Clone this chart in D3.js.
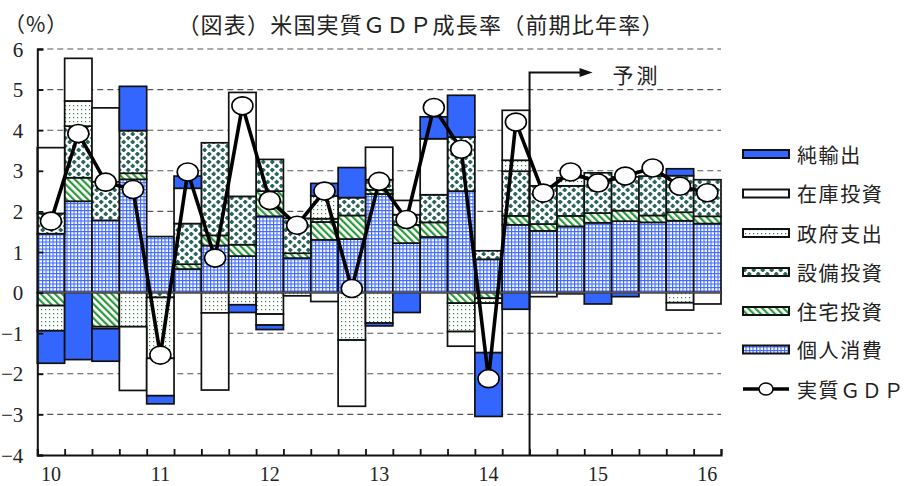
<!DOCTYPE html>
<html>
<head>
<meta charset="utf-8">
<script src="https://cdn.jsdelivr.net/npm/d3@7"></script>
<style>
  html, body { margin: 0; padding: 0; background: #fff; }
  svg { display: block; }
  .jp { font-family: "Noto Sans CJK JP", "Noto Sans", sans-serif; fill: #222; }
  .num { font-family: "Liberation Serif", "DejaVu Serif", serif; fill: #222; }
</style>
</head>
<body>
<svg id="chart" width="906" height="486"></svg>
<script>
// Quarters 2010Q1 – 2016Q1 (forecast from 2014Q3)
const quarters = [
  "2010Q1","2010Q2","2010Q3","2010Q4",
  "2011Q1","2011Q2","2011Q3","2011Q4",
  "2012Q1","2012Q2","2012Q3","2012Q4",
  "2013Q1","2013Q2","2013Q3","2013Q4",
  "2014Q1","2014Q2","2014Q3","2014Q4",
  "2015Q1","2015Q2","2015Q3","2015Q4",
  "2016Q1"
];
const yearLabels = ["10","11","12","13","14","15","16"];
const forecastStart = "2014Q3";

// Contributions to real GDP growth (annualized q/q, %pt)
const consumption = [1.45,2.25,1.78,2.79, 1.38,0.58,1.16,0.90, 1.88,0.85,1.30,1.32, 2.43,1.22,1.37,2.50, 0.82,1.67, 1.52,1.63, 1.72,1.76,1.73,1.77, 1.70];
const residential = [-0.32,0.58,-0.84,0.15, 0.00,0.12,0.25,0.28, 0.62,0.12,0.44,0.58, 0.10,0.45,0.36,-0.26, -0.14,0.22, 0.17,0.26, 0.24,0.26,0.17,0.21, 0.18];
const business    = [0.50,1.27,0.95,1.05, -0.12,1.00,2.28,1.19, 0.78,0.86,0.08,0.44, 0.25,0.25,0.68,1.33, 0.21,1.10, 0.94,0.74, 0.99,0.83,0.97,0.90, 0.90];
const government  = [-0.62,0.62,-0.05,-0.84, -1.50,0.00,-0.50,-0.30, -0.53,-0.08,0.56,-1.17, -0.75,0.00,0.00,-0.70, -0.12,0.27, 0.00,0.20, 0.00,0.00,0.00,-0.25, 0.00];
const inventory   = [1.62,1.05,1.82,-1.57, -0.92,0.87,-1.90,2.56, -0.27,0.00,-0.22,-1.63, 0.80,0.35,1.38,-0.36, -1.22,1.23, -0.10,-0.03, 0.00,0.00,0.00,-0.18, -0.28];
const netExports  = [-0.80,-1.65,-0.80,1.09, -0.20,0.30,0.00,-0.19, -0.11,0.00,0.31,0.74, -0.07,-0.49,0.54,1.03, -1.57,-0.41, 0.00,0.00, -0.28,-0.10,0.00,0.17, 0.00];
const realGDP     = [1.76,3.92,2.72,2.54, -1.54,2.97,0.85,4.60, 2.27,1.66,2.50,0.10, 2.74,1.80,4.56,3.53, -2.12,4.20, 2.45,2.97, 2.70,2.87,3.07,2.62, 2.46];

const yTicks = [-4,-3,-2,-1,0,1,2,3,4,5,6];

const seriesNames = ["個人消費","住宅投資","設備投資","政府支出","在庫投資","純輸出"];
const seriesValues = [consumption, residential, business, government, inventory, netExports];
const seriesFill = {
  "個人消費": "url(#pat-cons)",
  "住宅投資": "url(#pat-res)",
  "設備投資": "url(#pat-bus)",
  "政府支出": "url(#pat-gov)",
  "在庫投資": "#ffffff",
  "純輸出":   "#3366ff"
};
// legend runs top to bottom in reverse stacking order
const legendOrder = ["純輸出","在庫投資","政府支出","設備投資","住宅投資","個人消費"];

const svg = d3.select("#chart");

// ---------- fill patterns ----------
const defs = svg.append("defs");
const pCons = defs.append("pattern").attr("id","pat-cons")
  .attr("patternUnits","userSpaceOnUse").attr("width",3.5).attr("height",3.5);
pCons.append("rect").attr("width",3.5).attr("height",3.5).attr("fill","#fff");
pCons.append("rect").attr("width",3.5).attr("height",1.1).attr("fill","#3a66ff");
pCons.append("rect").attr("width",1.1).attr("height",3.5).attr("fill","#3a66ff");

const pRes = defs.append("pattern").attr("id","pat-res")
  .attr("patternUnits","userSpaceOnUse").attr("width",5).attr("height",5)
  .attr("patternTransform","rotate(-45)");
pRes.append("rect").attr("width",5).attr("height",5).attr("fill","#fff");
pRes.append("rect").attr("width",2.2).attr("height",5).attr("fill","#2a9a3a");

const pBus = defs.append("pattern").attr("id","pat-bus")
  .attr("patternUnits","userSpaceOnUse").attr("width",9).attr("height",8);
pBus.append("rect").attr("width",9).attr("height",8).attr("fill","#fff");
pBus.append("path").attr("d","M2.25,-0.6 L4.85,2 L2.25,4.6 L-0.35,2 Z M6.75,3.4 L9.35,6 L6.75,8.6 L4.15,6 Z")
  .attr("fill","#2a665b");

const pGov = defs.append("pattern").attr("id","pat-gov")
  .attr("patternUnits","userSpaceOnUse").attr("width",4).attr("height",4);
pGov.append("rect").attr("width",4).attr("height",4).attr("fill","#fff");
pGov.append("rect").attr("x",1).attr("y",1).attr("width",1.2).attr("height",1.2).attr("fill","#3f8050");

// ---------- scales ----------
const plotLeft = 37.3, plotRight = 721, plotTop = 49, plotBottom = 455;
const x = d3.scaleBand().domain(quarters).range([plotLeft, plotRight]).padding(0);
const xq = d3.scaleLinear().domain([0, quarters.length]).range([plotLeft, plotRight]);
const y = d3.scaleLinear().domain([-4, 6]).range([plotBottom, plotTop]);

// ---------- gridlines ----------
svg.append("g").selectAll("line")
  .data(yTicks.filter(v => v !== 0 && v !== -4))
  .join("line")
  .attr("x1", plotLeft).attr("x2", plotRight)
  .attr("y1", d => y(d)).attr("y2", d => y(d))
  .attr("stroke", "#555").attr("stroke-width", 1.1)
  .attr("stroke-dasharray", "6,4");

// ---------- stacked bars ----------
const rows = quarters.map((q, i) => {
  const r = { q };
  seriesNames.forEach((k, j) => r[k] = seriesValues[j][i]);
  return r;
});
const stacked = d3.stack().keys(seriesNames).offset(d3.stackOffsetDiverging)(rows);

const barG = svg.append("g");
stacked.forEach(s => {
  barG.append("g").selectAll("rect")
    .data(s.filter(d => Math.abs(d[1] - d[0]) > 1e-9))
    .join("rect")
    .attr("x", d => x(d.data.q))
    .attr("width", x.bandwidth())
    .attr("y", d => y(Math.max(d[0], d[1])))
    .attr("height", d => Math.abs(y(d[0]) - y(d[1])))
    .attr("fill", seriesFill[s.key])
    .attr("stroke", "#111")
    .attr("stroke-width", 1.7);
});

// zero line
svg.append("line")
  .attr("x1", plotLeft).attr("x2", plotRight)
  .attr("y1", y(0)).attr("y2", y(0))
  .attr("stroke", "#555").attr("stroke-width", 2);

// ---------- axes ----------
const yAxis = svg.append("g").attr("transform", `translate(${plotLeft},0)`)
  .call(d3.axisLeft(y).tickValues(yTicks).tickSize(-6).tickPadding(14).tickFormat(d3.format("d")));
yAxis.select(".domain").attr("stroke", "#111").attr("stroke-width", 2);
yAxis.selectAll(".tick line").attr("stroke", "#111").attr("stroke-width", 1.8);
yAxis.selectAll(".tick text").attr("class", "num").style("font-size", "21px")
  .attr("fill", "#222").attr("dy", "0.34em");

const xTickAxis = svg.append("g").attr("transform", `translate(0,${plotBottom})`)
  .call(d3.axisBottom(xq).tickValues(d3.range(0, quarters.length + 1)).tickSize(-6).tickFormat(""));
xTickAxis.select(".domain").attr("stroke", "#111").attr("stroke-width", 2);
xTickAxis.selectAll(".tick line").attr("stroke", "#111").attr("stroke-width", 1.8);

const q1s = quarters.filter(q => q.endsWith("Q1"));
const xLabelAxis = svg.append("g").attr("transform", `translate(0,${plotBottom})`)
  .call(d3.axisBottom(x).tickValues(q1s).tickSize(0).tickPadding(0)
    .tickFormat((d, i) => yearLabels[i]));
xLabelAxis.select(".domain").remove();
xLabelAxis.selectAll(".tick text").attr("class", "num").style("font-size", "20px")
  .attr("fill", "#222").attr("y", 19).attr("dy", null)
  .attr("dominant-baseline", "central");

// ---------- forecast marker ----------
const fx = x(forecastStart);
const fTop = y(5.42);
svg.append("path")
  .attr("d", `M${fx},${plotBottom} V${fTop} H${fx + 52}`)
  .attr("fill", "none").attr("stroke", "#111").attr("stroke-width", 2);
svg.append("path")
  .attr("d", `M${fx + 63},${fTop} L${fx + 50},${fTop - 4.5} L${fx + 50},${fTop + 4.5} Z`)
  .attr("fill", "#111");
svg.append("text").attr("class", "jp")
  .attr("x", fx + 83).attr("y", fTop + 1)
  .attr("dominant-baseline", "central")
  .style("font-size", "21px").style("letter-spacing", "3px")
  .text("予測");

// ---------- real GDP line ----------
const cx = q => x(q) + x.bandwidth() / 2;
svg.append("path")
  .datum(quarters.map((q, i) => [cx(q), y(realGDP[i])]))
  .attr("d", d3.line())
  .attr("fill", "none").attr("stroke", "#000").attr("stroke-width", 3.6)
  .attr("stroke-linejoin", "round");
svg.append("g").selectAll("ellipse")
  .data(quarters.map((q, i) => ({ q, v: realGDP[i] })))
  .join("ellipse")
  .attr("cx", d => cx(d.q)).attr("cy", d => y(d.v))
  .attr("rx", 10.5).attr("ry", 9)
  .attr("fill", "#fff").attr("stroke", "#000").attr("stroke-width", 1.6);

// ---------- titles ----------
svg.append("text").attr("class", "jp")
  .attr("x", 421).attr("y", 22.5)
  .attr("text-anchor", "middle").attr("dominant-baseline", "central")
  .style("font-size", "22px").style("letter-spacing", "1.2px")
  .text("（図表）米国実質ＧＤＰ成長率（前期比年率）");
svg.append("text").attr("class", "jp")
  .attr("x", 4).attr("y", 23)
  .attr("dominant-baseline", "central")
  .style("font-size", "21px").style("letter-spacing", "1px")
  .text("（%）");

// ---------- legend ----------
const lgX = 743, lgW = 46, lgText = 797;
const lgRowY = [154, 193.5, 233, 272, 311, 349.5, 389];
const lg = svg.append("g");
legendOrder.forEach((k, i) => {
  lg.append("rect")
    .attr("x", lgX).attr("y", lgRowY[i] - 4).attr("width", lgW).attr("height", 8)
    .attr("fill", seriesFill[k]).attr("stroke", "#111").attr("stroke-width", 2);
  lg.append("text").attr("class", "jp")
    .attr("x", lgText).attr("y", lgRowY[i])
    .attr("dominant-baseline", "central")
    .style("font-size", "20px").style("letter-spacing", "1.6px")
    .text(k);
});
const gy = lgRowY[6];
lg.append("line").attr("x1", lgX).attr("x2", lgX + lgW).attr("y1", gy).attr("y2", gy)
  .attr("stroke", "#000").attr("stroke-width", 3.4);
lg.append("ellipse").attr("cx", lgX + lgW / 2).attr("cy", gy).attr("rx", 7).attr("ry", 6)
  .attr("fill", "#fff").attr("stroke", "#000").attr("stroke-width", 1.5);
lg.append("text").attr("class", "jp")
  .attr("x", lgText).attr("y", gy)
  .attr("dominant-baseline", "central")
  .style("font-size", "20px").style("letter-spacing", "1.6px")
  .text("実質ＧＤＰ");
</script>
</body>
</html>
